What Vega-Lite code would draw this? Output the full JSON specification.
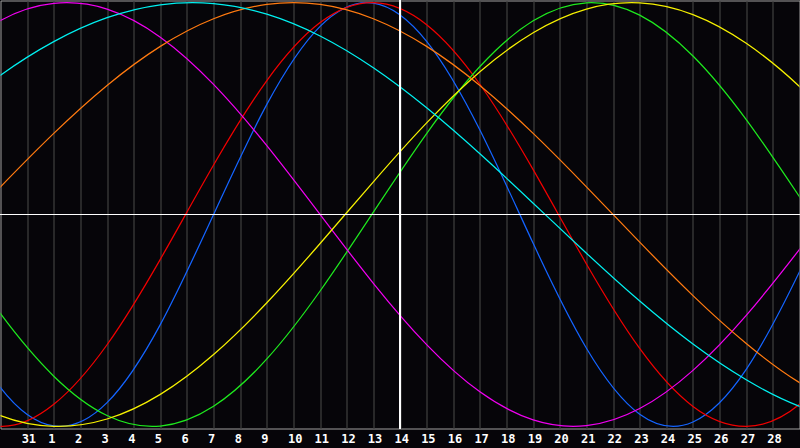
{
 "$schema": "https://vega.github.io/schema/vega-lite/v6.json",
 "width": 799,
 "height": 428,
 "autosize": {"type": "none"},
 "padding": {"left": 0.5, "top": 0.5, "right": 0.5, "bottom": 19.5},
 "background": "#060509",
 "config": {"view": {"stroke": "#a0a0a0", "strokeWidth": 1}},
 "data": {"values": [
    {"c":"physical","t":-2,"v":-0.3984},{"c":"physical","t":0,"v":-0.8170},{"c":"physical","t":2,"v":-0.9977},{"c":"physical","t":4,"v":-0.8879},{"c":"physical","t":6,"v":-0.5196},{"c":"physical","t":8,"v":0},{"c":"physical","t":10,"v":0.5196},{"c":"physical","t":12,"v":0.8879},{"c":"physical","t":14,"v":0.9977},{"c":"physical","t":16,"v":0.8170},{"c":"physical","t":18,"v":0.3984},{"c":"physical","t":20,"v":-0.1362},{"c":"physical","t":22,"v":-0.6311},{"c":"physical","t":24,"v":-0.9423},{"c":"physical","t":26,"v":-0.9791},{"c":"physical","t":28,"v":-0.7308},{"c":"physical","t":30,"v":-0.2698},{"c":"physical","t":32,"v":0.2698},
    {"c":"emotional","t":-2,"v":-0.9058},{"c":"emotional","t":0,"v":-0.9999},{"c":"emotional","t":2,"v":-0.8960},{"c":"emotional","t":4,"v":-0.6147},{"c":"emotional","t":6,"v":-0.2116},{"c":"emotional","t":8,"v":0.2334},{"c":"emotional","t":10,"v":0.6322},{"c":"emotional","t":12,"v":0.9058},{"c":"emotional","t":14,"v":0.9999},{"c":"emotional","t":16,"v":0.8960},{"c":"emotional","t":18,"v":0.6147},{"c":"emotional","t":20,"v":0.2116},{"c":"emotional","t":22,"v":-0.2334},{"c":"emotional","t":24,"v":-0.6322},{"c":"emotional","t":26,"v":-0.9058},{"c":"emotional","t":28,"v":-0.9999},{"c":"emotional","t":30,"v":-0.8960},{"c":"emotional","t":32,"v":-0.6147},
    {"c":"intellectual","t":-2,"v":-0.1064},{"c":"intellectual","t":0,"v":-0.4683},{"c":"intellectual","t":2,"v":-0.7631},{"c":"intellectual","t":4,"v":-0.9487},{"c":"intellectual","t":6,"v":-0.9983},{"c":"intellectual","t":8,"v":-0.9048},{"c":"intellectual","t":10,"v":-0.6817},{"c":"intellectual","t":12,"v":-0.3610},{"c":"intellectual","t":14,"v":0.0114},{"c":"intellectual","t":16,"v":0.3822},{"c":"intellectual","t":18,"v":0.6983},{"c":"intellectual","t":20,"v":0.9144},{"c":"intellectual","t":22,"v":0.9993},{"c":"intellectual","t":24,"v":0.9412},{"c":"intellectual","t":26,"v":0.7483},{"c":"intellectual","t":28,"v":0.4480},{"c":"intellectual","t":30,"v":0.0837},{"c":"intellectual","t":32,"v":-0.2927},
    {"c":"intuitive","t":-2,"v":0.7357},{"c":"intuitive","t":0,"v":0.9158},{"c":"intuitive","t":2,"v":0.9966},{"c":"intuitive","t":4,"v":0.9694},{"c":"intuitive","t":6,"v":0.8371},{"c":"intuitive","t":8,"v":0.6142},{"c":"intuitive","t":10,"v":0.3247},{"c":"intuitive","t":12,"v":0},{"c":"intuitive","t":14,"v":-0.3247},{"c":"intuitive","t":16,"v":-0.6142},{"c":"intuitive","t":18,"v":-0.8371},{"c":"intuitive","t":20,"v":-0.9694},{"c":"intuitive","t":22,"v":-0.9966},{"c":"intuitive","t":24,"v":-0.9158},{"c":"intuitive","t":26,"v":-0.7357},{"c":"intuitive","t":28,"v":-0.4759},{"c":"intuitive","t":30,"v":-0.1646},{"c":"intuitive","t":32,"v":0.1646},
    {"c":"aesthetic","t":-2,"v":-0.8184},{"c":"aesthetic","t":0,"v":-0.9492},{"c":"aesthetic","t":2,"v":-0.9996},{"c":"aesthetic","t":4,"v":-0.9652},{"c":"aesthetic","t":6,"v":-0.8490},{"c":"aesthetic","t":8,"v":-0.6608},{"c":"aesthetic","t":10,"v":-0.4165},{"c":"aesthetic","t":12,"v":-0.1369},{"c":"aesthetic","t":14,"v":0.1543},{"c":"aesthetic","t":16,"v":0.4324},{"c":"aesthetic","t":18,"v":0.6738},{"c":"aesthetic","t":20,"v":0.8581},{"c":"aesthetic","t":22,"v":0.9697},{"c":"aesthetic","t":24,"v":0.9990},{"c":"aesthetic","t":26,"v":0.9436},{"c":"aesthetic","t":28,"v":0.8082},{"c":"aesthetic","t":30,"v":0.6042},{"c":"aesthetic","t":32,"v":0.3490},
    {"c":"awareness","t":-2,"v":-0.1305},{"c":"awareness","t":0,"v":0.1305},{"c":"awareness","t":2,"v":0.3827},{"c":"awareness","t":4,"v":0.6088},{"c":"awareness","t":6,"v":0.7934},{"c":"awareness","t":8,"v":0.9239},{"c":"awareness","t":10,"v":0.9914},{"c":"awareness","t":12,"v":0.9914},{"c":"awareness","t":14,"v":0.9239},{"c":"awareness","t":16,"v":0.7934},{"c":"awareness","t":18,"v":0.6088},{"c":"awareness","t":20,"v":0.3827},{"c":"awareness","t":22,"v":0.1305},{"c":"awareness","t":24,"v":-0.1305},{"c":"awareness","t":26,"v":-0.3827},{"c":"awareness","t":28,"v":-0.6088},{"c":"awareness","t":30,"v":-0.7934},{"c":"awareness","t":32,"v":-0.9239},
    {"c":"spiritual","t":-2,"v":0.4619},{"c":"spiritual","t":0,"v":0.6573},{"c":"spiritual","t":2,"v":0.8159},{"c":"spiritual","t":4,"v":0.9289},{"c":"spiritual","t":6,"v":0.9899},{"c":"spiritual","t":8,"v":0.9955},{"c":"spiritual","t":10,"v":0.9454},{"c":"spiritual","t":12,"v":0.8424},{"c":"spiritual","t":14,"v":0.6923},{"c":"spiritual","t":16,"v":0.5034},{"c":"spiritual","t":18,"v":0.2864},{"c":"spiritual","t":20,"v":0.0533},{"c":"spiritual","t":22,"v":-0.1827},{"c":"spiritual","t":24,"v":-0.4086},{"c":"spiritual","t":26,"v":-0.6115},{"c":"spiritual","t":28,"v":-0.7802},{"c":"spiritual","t":30,"v":-0.9053},{"c":"spiritual","t":32,"v":-0.9798}
 ]},
 "layer": [
  {
   "mark": {"type": "line", "interpolate": "natural", "strokeWidth": 1.25, "clip": true},
   "encoding": {
    "x": {
     "field": "t", "type": "quantitative",
     "scale": {"domain": [0, 30], "nice": false, "zero": false},
     "axis": {
      "values": [1,2,3,4,5,6,7,8,9,10,11,12,13,14,15,16,17,18,19,20,21,22,23,24,25,26,27,28,29],
      "tickCount": 30,
      "title": null, "grid": true, "gridColor": "#404040", "gridOpacity": 1, "gridWidth": 1.2,
      "domain": false, "ticks": false,
      "labelExpr": "datum.value == 1 ? '31' : '' + (datum.value - 1)",
      "labelColor": "#ffffff", "labelFont": "DejaVu Sans Mono", "labelFontWeight": "bold", "labelFontSize": 12,
      "labelAlign": "left", "labelOffset": -6, "labelBaseline": "alphabetic", "labelPadding": 14,
      "labelOverlap": false, "labelBound": false, "labelFlush": false
     }
    },
    "y": {"field": "v", "type": "quantitative", "scale": {"domain": [-1.01, 1.01], "nice": false, "zero": false}, "axis": null},
    "color": {
     "field": "c", "type": "nominal", "legend": null,
     "scale": {
      "domain": ["physical","emotional","intellectual","intuitive","aesthetic","awareness","spiritual"],
      "range": ["#1464ff","#f00000","#1ee81e","#f000f0","#f5f000","#ff7a10","#00f0f0"]
     }
    }
   }
  },
  {
   "mark": {"type": "rule", "color": "#ffffff", "strokeWidth": 1},
   "encoding": {"y": {"datum": 0, "type": "quantitative"}}
  },
  {
   "mark": {"type": "rule", "color": "#ffffff", "strokeWidth": 1},
   "encoding": {"x": {"datum": 15, "type": "quantitative"}}
  }
 ]
}
